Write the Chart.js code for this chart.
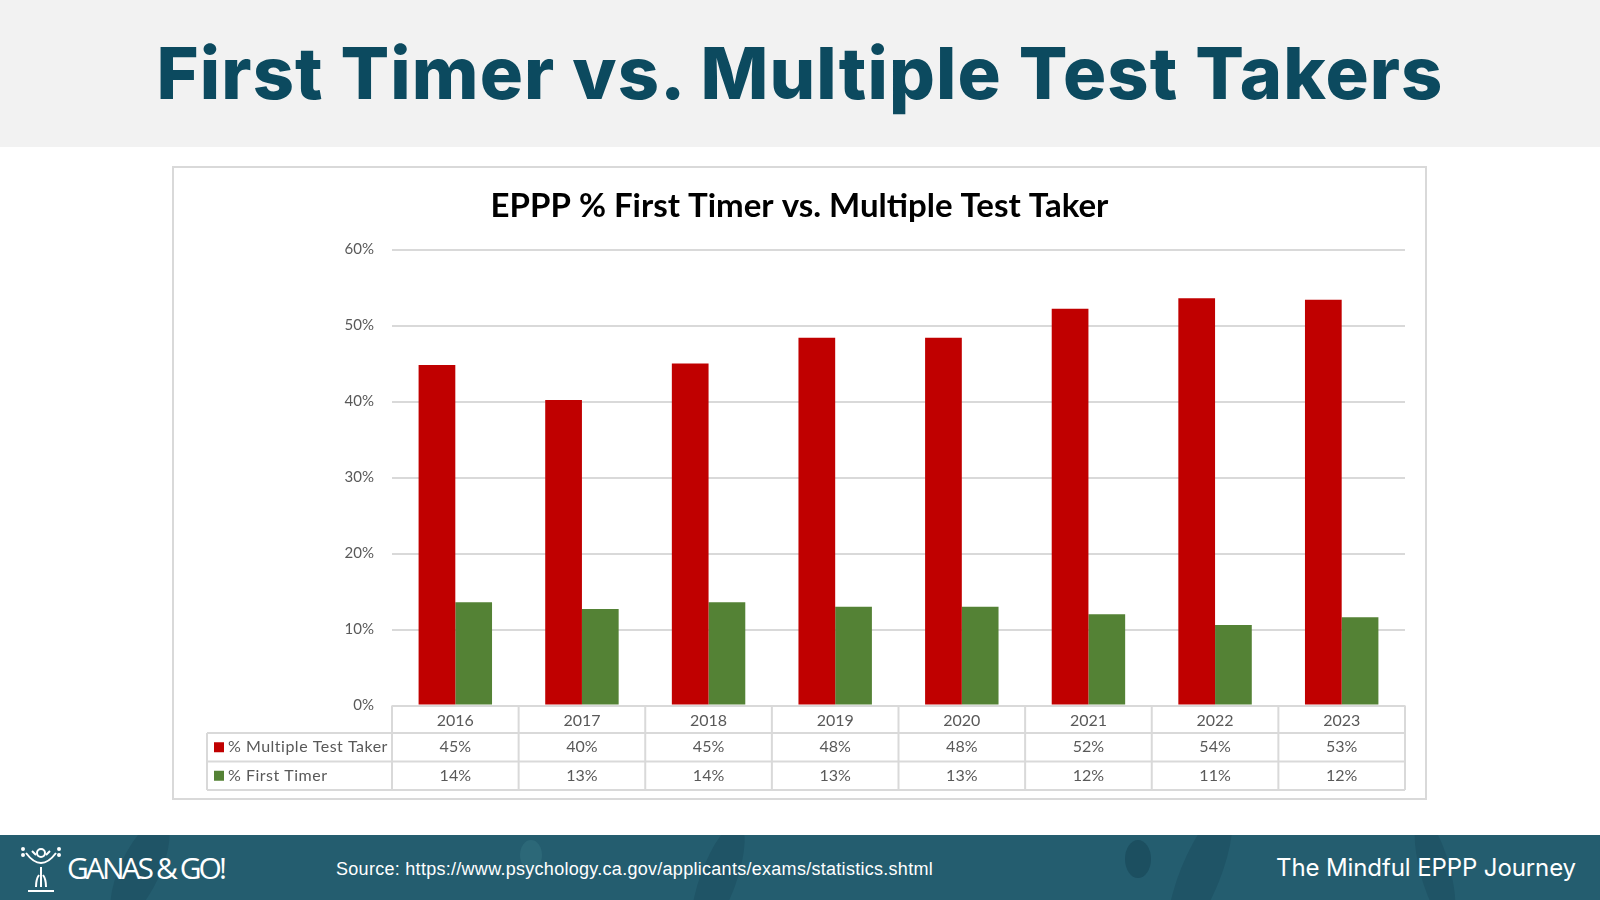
<!DOCTYPE html>
<html>
<head>
<meta charset="utf-8">
<title>First Timer vs. Multiple Test Takers</title>
<script src="https://cdn.jsdelivr.net/npm/chart.js@4.4.1/dist/chart.umd.min.js"></script>
<style>
  html, body { margin: 0; padding: 0; }
  body { width: 1600px; height: 900px; position: relative; overflow: hidden; background: #fff; font-family: "Lato", sans-serif; }
  .header { position: absolute; left: 0; top: 0; width: 1600px; height: 147px; background: #f2f2f2; }
  .header h1 { position: absolute; left: 0; top: 37px; width: 1600px; margin: 0; text-align: center;
    font-family: "Inter", sans-serif; font-weight: 800; font-size: 72px; line-height: 72px; color: #0c4a5f; white-space: nowrap; }
  .header h1 span { display: inline-block; }
  .panel { position: absolute; left: 172px; top: 166px; width: 1255px; height: 634px; box-sizing: border-box; border: 2px solid #d9d9d9; background: #fff; }
  .panel canvas { position: absolute; left: 0; top: 0; }
  .footer { position: absolute; left: 0; top: 835px; width: 1600px; height: 65px; background: #245d6f; overflow: hidden; }
  .leaf { position: absolute; border-radius: 50%; }
  .footer .txt { position: absolute; color: #fff; white-space: nowrap; }
  .source { left: 336px; top: 24px; font-family: "Liberation Sans", Arial, sans-serif; font-size: 18px; line-height: 20px; }
  .journey { right: 24px; top: 18px; font-family: "Inter", sans-serif; font-weight: 400; font-size: 24px; line-height: 30px; }
  .logo { left: 67px; top: 15px; font-family: "Open Sans", sans-serif; font-weight: 400; font-size: 30px; line-height: 36px; }
</style>
</head>
<body>
<div class="header"><h1><span id="mainTitle">First Timer vs. Multiple Test Takers</span></h1></div>

<div class="panel">
  <canvas id="chart" width="1251" height="630"></canvas>
</div>

<div class="footer">
  <div class="leaf" style="left:120px;top:-20px;width:40px;height:110px;background:#1f5466;transform:rotate(25deg)"></div>
  <div class="leaf" style="left:520px;top:5px;width:22px;height:30px;background:#2c6878;"></div>
  <div class="leaf" style="left:700px;top:-15px;width:36px;height:120px;background:#1f5466;transform:rotate(20deg)"></div>
  <div class="leaf" style="left:1125px;top:5px;width:26px;height:38px;background:#1c4f60;"></div>
  <div class="leaf" style="left:1180px;top:-30px;width:40px;height:140px;background:#1f5466;transform:rotate(22deg)"></div>
  <div class="leaf" style="left:1420px;top:-20px;width:30px;height:110px;background:#1f5466;transform:rotate(-15deg)"></div>
  <svg style="position:absolute;left:18px;top:8px" width="46" height="52" viewBox="0 0 46 52" fill="none" stroke="#fff" stroke-width="2">
    <path d="M8 10 Q23 30 38 10" />
    <circle cx="23" cy="10" r="4" />
    <path d="M14 8 l4 4 M32 8 l-4 4" />
    <path d="M23 24 V44 M18 44 q0 -8 3 -12 M28 44 q0 -8 -3 -12" />
    <path d="M10 48 H36" />
    <circle cx="5" cy="6" r="1" fill="#fff" /><circle cx="5" cy="12" r="1" fill="#fff" />
    <circle cx="41" cy="6" r="1" fill="#fff" /><circle cx="41" cy="12" r="1" fill="#fff" />
  </svg>
  <div class="txt logo" id="logoText">GANAS &amp; GO!</div>
  <div class="txt source" id="sourceText">Source: https://www.psychology.ca.gov/applicants/exams/statistics.shtml</div>
  <div class="txt journey" id="journeyText">The Mindful EPPP Journey</div>
</div>

<script>
// --- data ---
const years = ["2016", "2017", "2018", "2019", "2020", "2021", "2022", "2023"];
const multipleTaker = [44.8, 40.2, 45.0, 48.4, 48.4, 52.2, 53.6, 53.4];
const firstTimer = [13.6, 12.7, 13.6, 13.0, 13.0, 12.0, 10.6, 11.6];
const seriesNames = ["% Multiple Test Taker", "% First Timer"];
const seriesColors = ["#c00000", "#548235"];
const yTicks = [0, 10, 20, 30, 40, 50, 60];

// stretch text so it spans the same width as in the slide
function fitWidth(id, target) {
  const el = document.getElementById(id);
  el.style.display = "inline-block";
  const w = el.getBoundingClientRect().width;
  el.style.letterSpacing = ((target - w) / el.textContent.length) + "px";
}
fitWidth("mainTitle", 1287);
fitWidth("sourceText", 597);
fitWidth("journeyText", 300);
fitWidth("logoText", 157);

const GRID = "#d9d9d9";
const TEXT = "#595959";
const ROW1 = 27.5, ROW2 = 28.5, ROW3 = 28.5;
const LEGEND_LEFT = 33;

// data table under the x axis, Excel style
const dataTable = {
  id: "dataTable",
  afterDraw(chart) {
    const { ctx, scales: { x } } = chart;
    const top = x.top;
    const y1 = top + ROW1, y2 = y1 + ROW2, y3 = y2 + ROW3;
    const colW = x.width / years.length;
    ctx.save();
    ctx.strokeStyle = GRID;
    ctx.lineWidth = 2;
    ctx.beginPath();
    for (const y of [y1, y2, y3]) {
      ctx.moveTo(LEGEND_LEFT, y);
      ctx.lineTo(x.right, y);
    }
    for (let k = 0; k <= years.length; k++) {
      const px = x.left + k * colW;
      ctx.moveTo(px, top);
      ctx.lineTo(px, y3);
    }
    ctx.moveTo(LEGEND_LEFT, y1);
    ctx.lineTo(LEGEND_LEFT, y3);
    ctx.stroke();

    ctx.font = "16px Lato";
    ctx.textBaseline = "middle";
    const rows = [[multipleTaker, (y1 + y2) / 2], [firstTimer, (y2 + y3) / 2]];
    rows.forEach(([vals, cy], r) => {
      ctx.fillStyle = seriesColors[r];
      ctx.fillRect(LEGEND_LEFT + 7, cy - 5, 10, 10);
      ctx.fillStyle = TEXT;
      ctx.textAlign = "left";
      ctx.letterSpacing = "0.5px";
      ctx.fillText(seriesNames[r], LEGEND_LEFT + 21, cy);
      ctx.letterSpacing = "0px";
      ctx.textAlign = "center";
      vals.forEach((v, i) => {
        ctx.fillText(Math.round(v) + "%", x.getPixelForValue(i), cy);
      });
    });
    ctx.restore();
  }
};

new Chart(document.getElementById("chart"), {
  type: "bar",
  data: {
    labels: years,
    datasets: [
      { label: seriesNames[0], data: multipleTaker, backgroundColor: seriesColors[0] },
      { label: seriesNames[1], data: firstTimer, backgroundColor: seriesColors[1] }
    ]
  },
  options: {
    responsive: false,
    animation: false,
    categoryPercentage: 0.58,
    barPercentage: 1,
    layout: { padding: { left: 20, right: 20, top: 0, bottom: 8 } },
    plugins: {
      legend: { display: false },
      tooltip: { enabled: false },
      title: {
        display: true,
        text: "EPPP % First Timer vs. Multiple Test Taker",
        color: "#000",
        font: { family: "Lato", size: 33, weight: "bold" },
        padding: { top: 19, bottom: 23 }
      }
    },
    scales: {
      x: {
        grid: { display: false },
        border: { display: false },
        ticks: { color: TEXT, font: { family: "Lato", size: 16 }, padding: -2 },
        afterFit(scale) { scale.height = ROW1 + ROW2 + ROW3; }
      },
      y: {
        min: yTicks[0],
        max: yTicks[yTicks.length - 1],
        afterBuildTicks(scale) { scale.ticks = yTicks.map(v => ({ value: v })); },
        grid: { color: GRID, lineWidth: 2, drawTicks: false },
        border: { display: false },
        ticks: { color: TEXT, font: { family: "Lato", size: 15 }, padding: 18, callback: v => v + "%" },
        afterFit(scale) { scale.width = 198; }
      }
    }
  },
  plugins: [dataTable]
});
</script>
</body>
</html>
